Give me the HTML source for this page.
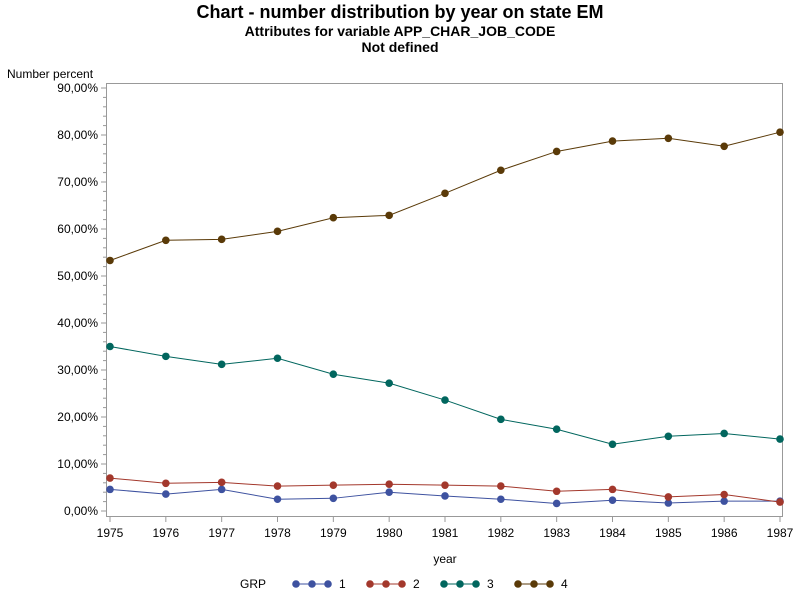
<!DOCTYPE html>
<html><head><meta charset="utf-8"><style>
body{margin:0;background:#fff;width:800px;height:600px;overflow:hidden;font-family:"Liberation Sans",sans-serif}
</style></head><body>
<svg id="chart" width="800" height="600" xmlns="http://www.w3.org/2000/svg" font-family="Liberation Sans, sans-serif">
<text x="400" y="18" text-anchor="middle" font-size="18" font-weight="bold">Chart - number distribution by year on state EM</text>
<text x="400" y="36" text-anchor="middle" font-size="14" font-weight="bold">Attributes for variable APP_CHAR_JOB_CODE</text>
<text x="400" y="52" text-anchor="middle" font-size="14" font-weight="bold">Not defined</text>
<text x="7" y="78" font-size="12">Number percent</text>
<rect x="106.5" y="83.5" width="676" height="433" fill="none" stroke="#999"/>
<g id="axes"></g>
<g id="series"></g>
<text x="445" y="563" text-anchor="middle" font-size="12">year</text>
<g id="legend"></g>
</svg>
<script>
const years=[1975,1976,1977,1978,1979,1980,1981,1982,1983,1984,1985,1986,1987];
const grp1=[4.6,3.6,4.6,2.5,2.7,4.0,3.2,2.5,1.6,2.3,1.7,2.1,2.1];
const grp2=[7.0,5.9,6.1,5.3,5.5,5.7,5.5,5.3,4.2,4.6,3.0,3.5,1.9];
const grp3=[35.0,32.9,31.2,32.5,29.1,27.2,23.6,19.5,17.4,14.2,15.9,16.5,15.3];
const grp4=[53.3,57.6,57.8,59.5,62.4,62.9,67.6,72.5,76.5,78.7,79.3,77.6,80.6];
const yTicks=[0,10,20,30,40,50,60,70,80,90];
const groupNames=["1","2","3","4"];
const NS="http://www.w3.org/2000/svg";
const colors=["#3e52a0","#a3382c","#01665e","#5a3a08"];
const x=v=>110+(v-1975)*(780-110)/12;
const y=v=>511-v*(511-88)/90;
function mk(t,a,p){const e=document.createElementNS(NS,t);for(const k in a)e.setAttribute(k,a[k]);p.appendChild(e);return e;}
const axes=document.getElementById('axes');
for(let v=0;v<=90;v+=2){
 const major=v%10===0;
 const t=mk('line',{x1:major?101:103,x2:106,y1:y(v),y2:y(v),stroke:'#999'},axes);
 
 
}
yTicks.forEach(v=>{
 const t=mk('text',{x:98,y:y(v)+4,'text-anchor':'end','font-size':12},axes);
 t.textContent=v.toFixed(2).replace('.',',')+'%';
 
 
});
years.forEach(v=>{
 const l=mk('line',{x1:x(v),x2:x(v),y1:517,y2:522,stroke:'#999'},axes);
 
 
 const t=mk('text',{x:x(v),y:537,'text-anchor':'middle','font-size':12},axes);
 t.textContent=v;
 
 
});
const ser=document.getElementById('series');
[grp1,grp2,grp3,grp4].forEach((d,i)=>{
 const g=mk('g',{},ser);
 
 
 const pl=mk('polyline',{points:d.map((v,j)=>x(years[j])+','+y(v)).join(' '),fill:'none',stroke:colors[i],'stroke-width':1},g);
 
 
 d.forEach((v,j)=>{
  const c=mk('circle',{cx:x(years[j]),cy:y(v),r:3.8,fill:colors[i]},g);
  
  
 });
});
const lg=document.getElementById('legend');
const lt=mk('text',{x:240,y:588,'font-size':12},lg);
lt.textContent='GRP';


const lx=[296,370,444,518];
groupNames.forEach((n,i)=>{
 const g=mk('g',{},lg);
 
 
 mk('line',{x1:lx[i],x2:lx[i]+32,y1:584,y2:584,stroke:colors[i]},g);
 [0,16,32].forEach(o=>mk('circle',{cx:lx[i]+o,cy:584,r:3.8,fill:colors[i]},g));
 const t=mk('text',{x:lx[i]+43,y:588,'font-size':12},g);
 t.textContent=n;
});
</script>
</body></html>
